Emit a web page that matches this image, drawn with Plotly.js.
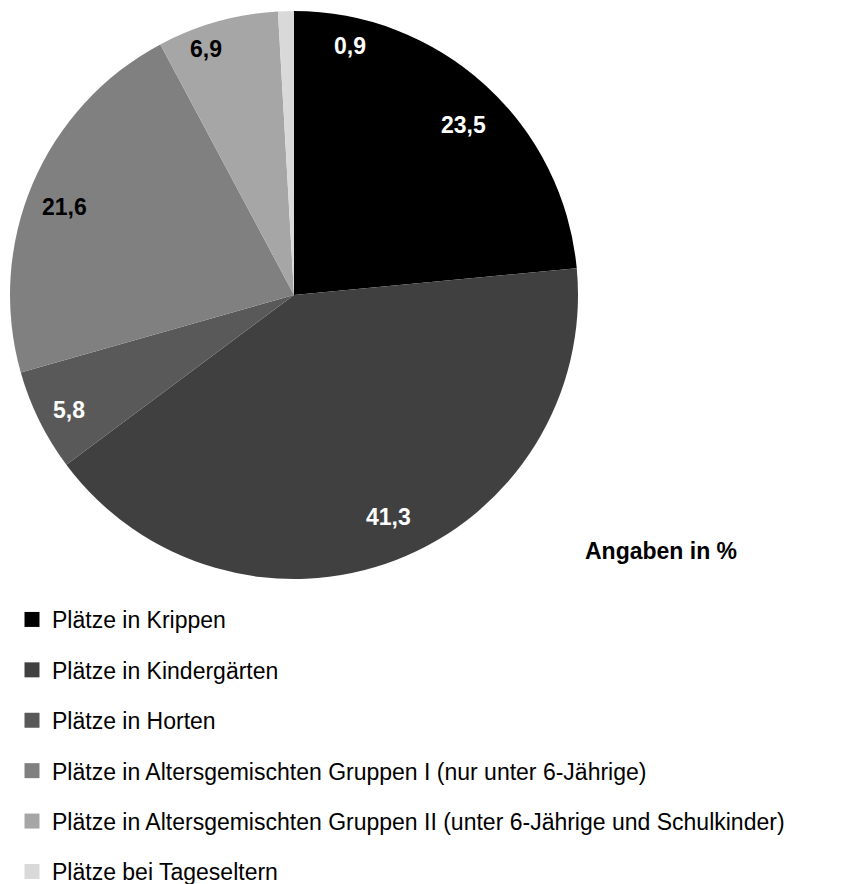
<!DOCTYPE html>
<html>
<head>
<meta charset="utf-8">
<script src="https://cdn.plot.ly/plotly-3.0.1.min.js"></script>
<style>html,body{margin:0;padding:0;background:#fff;overflow:hidden;}#chart{width:855px;height:884px;}</style>
</head>
<body>
<div id="chart"></div>
<script>
// ---- data ----
const categories = [
  "Plätze in Krippen",
  "Plätze in Kindergärten",
  "Plätze in Horten",
  "Plätze in Altersgemischten Gruppen I (nur unter 6-Jährige)",
  "Plätze in Altersgemischten Gruppen II (unter 6-Jährige und Schulkinder)",
  "Plätze bei Tageseltern"
];
const values = [23.5, 41.3, 5.8, 21.6, 6.9, 0.9];
const noteText = "Angaben in %";

// ---- style ----
const colors = ["#000000", "#404040", "#595959", "#808080", "#a6a6a6", "#d9d9d9"];
const labelColors = ["#ffffff", "#ffffff", "#ffffff", "#000000", "#000000", "#ffffff"];
const labelAngleNudge = [2.7, -2, -0.7, -2, -4, 14.2];
const labelRadius = [0.845, 0.85, 0.89, 0.866, 0.92, 0.9];
const FONT = "'Liberation Sans', Arial, sans-serif";
const W = 855, H = 884;
const pieBox = {left: 10, right: 578, top: 11, bottom: 579};
const labelCenter = {x: 294, y: 295, r: 284};

const traces = [{
  type: "pie",
  values: values,
  labels: categories,
  sort: false,
  direction: "clockwise",
  rotation: 0,
  marker: {colors: colors, line: {width: 0}},
  textinfo: "none",
  hoverinfo: "label+value",
  showlegend: false,
  domain: {
    x: [pieBox.left / W, pieBox.right / W],
    y: [1 - pieBox.bottom / H, 1 - pieBox.top / H]
  }
}];

// legend entries
categories.forEach((c, i) => {
  traces.push({
    type: "scatter",
    mode: "markers",
    x: [null], y: [null],
    name: c,
    legendgroup: "g" + i,
    marker: {symbol: "square", size: 15, color: colors[i]},
    hoverinfo: "skip",
    showlegend: true
  });
});

// value labels derived from data
const total = values.reduce((a, b) => a + b, 0);
const annotations = [];
let cum = 0;
values.forEach((v, i) => {
  const ang = ((cum + v / 2) / total * 360 + labelAngleNudge[i]) * Math.PI / 180;
  cum += v;
  const px = labelCenter.x + labelRadius[i] * labelCenter.r * Math.sin(ang);
  const py = labelCenter.y - labelRadius[i] * labelCenter.r * Math.cos(ang);
  annotations.push({
    xref: "paper", yref: "paper",
    x: px / W, y: 1 - py / H,
    xanchor: "center", yanchor: "middle",
    showarrow: false,
    text: "<b>" + v.toFixed(1).replace(".", ",") + "</b>",
    font: {family: FONT, size: 23, color: labelColors[i]}
  });
});
annotations.push({
  xref: "paper", yref: "paper",
  x: 661 / W, y: 1 - 551 / H,
  xanchor: "center", yanchor: "middle",
  showarrow: false,
  text: "<b>" + noteText + "</b>",
  font: {family: FONT, size: 23, color: "#000000"}
});

const layout = {
  width: W, height: H,
  margin: {l: 0, r: 0, t: 0, b: 0, autoexpand: false},
  paper_bgcolor: "#ffffff",
  plot_bgcolor: "rgba(0,0,0,0)",
  font: {family: FONT, color: "#000000"},
  xaxis: {visible: false},
  yaxis: {visible: false},
  showlegend: true,
  legend: {
    x: 12 / W, xanchor: "left",
    y: 1 - 598 / H, yanchor: "top",
    orientation: "v",
    font: {family: FONT, size: 23, color: "#000000"},
    tracegroupgap: 17.5,
    bgcolor: "rgba(0,0,0,0)",
    borderwidth: 0
  },
  annotations: annotations
};

Plotly.newPlot("chart", traces, layout, {displayModeBar: false, staticPlot: true});
</script>
</body>
</html>
